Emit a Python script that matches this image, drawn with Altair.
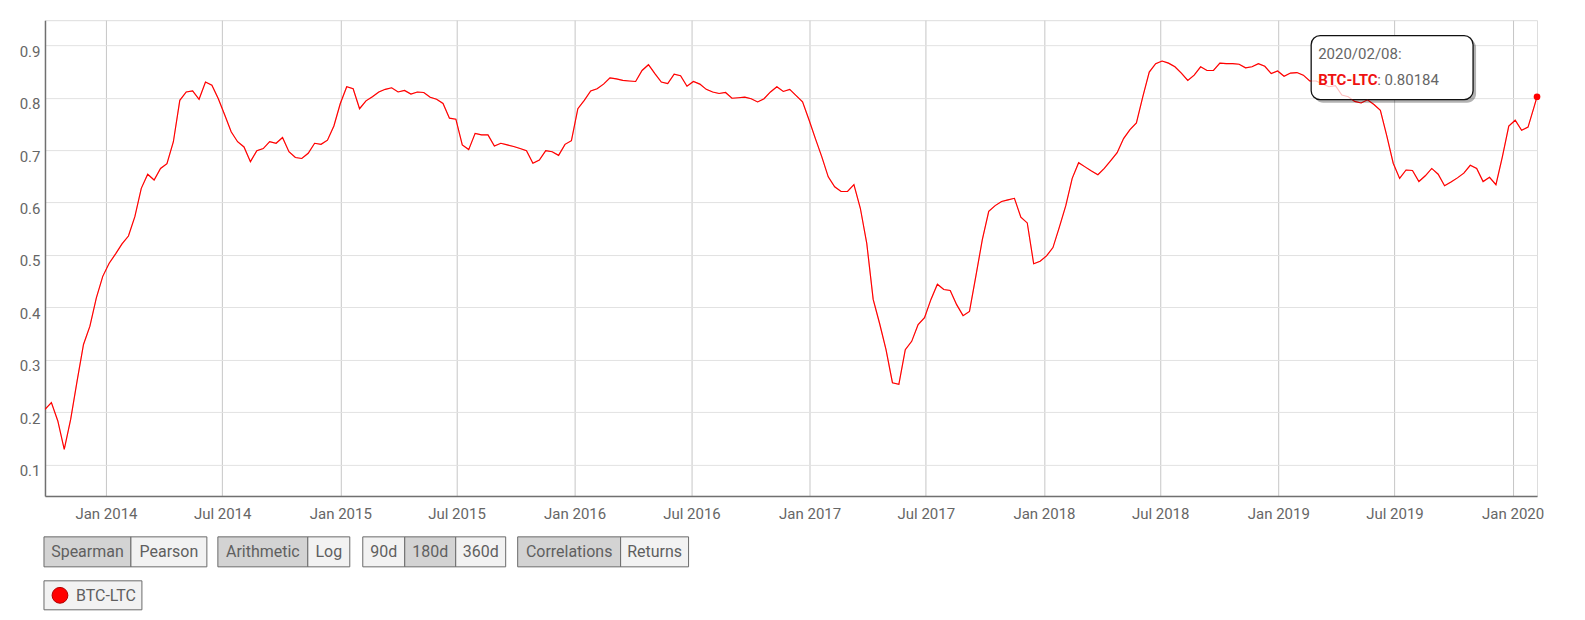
import altair as alt
import pandas as pd

# ---------------- data ----------------
series_name = "BTC-LTC"
start_date = "2013-09-28"      # first sample, then one sample every 10 days
corr_values = [
    0.205, 0.218, 0.183, 0.129, 0.186, 0.259, 0.329, 0.364, 0.418, 0.459,
    0.484, 0.502, 0.521, 0.536, 0.573, 0.627, 0.654, 0.643, 0.665, 0.674,
    0.716, 0.795, 0.811, 0.813, 0.797, 0.830, 0.824, 0.798, 0.767, 0.735,
    0.716, 0.706, 0.678, 0.699, 0.703, 0.716, 0.713, 0.724, 0.697, 0.686,
    0.684, 0.694, 0.713, 0.711, 0.719, 0.746, 0.789, 0.821, 0.817, 0.779,
    0.794, 0.802, 0.811, 0.816, 0.819, 0.811, 0.814, 0.807, 0.811, 0.810,
    0.801, 0.797, 0.789, 0.761, 0.759, 0.710, 0.701, 0.732, 0.729, 0.729,
    0.708, 0.713, 0.710, 0.707, 0.703, 0.699, 0.675, 0.681, 0.699, 0.697,
    0.690, 0.711, 0.718, 0.779, 0.795, 0.813, 0.817, 0.826, 0.838, 0.836,
    0.833, 0.832, 0.831, 0.852, 0.863, 0.846, 0.830, 0.827, 0.845, 0.842,
    0.822, 0.831, 0.826, 0.816, 0.811, 0.808, 0.810, 0.799, 0.800, 0.801,
    0.798, 0.792, 0.798, 0.811, 0.821, 0.812, 0.816, 0.804, 0.792, 0.758,
    0.722, 0.687, 0.649, 0.630, 0.621, 0.621, 0.634, 0.589, 0.522, 0.415,
    0.369, 0.319, 0.256, 0.253, 0.319, 0.335, 0.367, 0.380, 0.415, 0.444,
    0.434, 0.432, 0.405, 0.384, 0.392, 0.460, 0.529, 0.583, 0.594, 0.602,
    0.605, 0.608, 0.572, 0.561, 0.483, 0.488, 0.498, 0.514, 0.553, 0.594,
    0.646, 0.676, 0.668, 0.660, 0.653, 0.665, 0.680, 0.695, 0.722, 0.739,
    0.752, 0.802, 0.849, 0.865, 0.870, 0.866, 0.859, 0.847, 0.833, 0.843,
    0.859, 0.852, 0.852, 0.866, 0.865, 0.865, 0.864, 0.857, 0.859, 0.865,
    0.860, 0.846, 0.851, 0.841, 0.847, 0.848, 0.843, 0.832, 0.832, 0.826,
    0.821, 0.823, 0.805, 0.802, 0.793, 0.790, 0.796, 0.787, 0.776, 0.727,
    0.675, 0.646, 0.662, 0.661, 0.640, 0.651, 0.665, 0.654, 0.632, 0.639,
    0.647, 0.656, 0.671, 0.665, 0.640, 0.648, 0.634, 0.687, 0.746, 0.757,
    0.738, 0.744, 0.785,
]
last_date = "2020-02-08"
last_value = 0.80184
last_label = "2020/02/08:"

y_ticks = [0.1, 0.2, 0.3, 0.4, 0.5, 0.6, 0.7, 0.8, 0.9]
x_tick_dates = ["2014-01-01", "2014-07-01", "2015-01-01", "2015-07-01",
                "2016-01-01", "2016-07-01", "2017-01-01", "2017-07-01",
                "2018-01-01", "2018-07-01", "2019-01-01", "2019-07-01",
                "2020-01-01"]

button_groups = [
    [("Spearman", True), ("Pearson", False)],
    [("Arithmetic", True), ("Log", False)],
    [("90d", False), ("180d", True), ("360d", False)],
    [("Correlations", True), ("Returns", False)],
]

# ---------------- build table ----------------
dates = list(pd.date_range(start_date, periods=len(corr_values), freq="10D").strftime("%Y-%m-%d"))
df = pd.DataFrame({"date": dates + [last_date], "corr": corr_values + [last_value],
                   "series": series_name})
last_df = pd.DataFrame({"date": [last_date], "corr": [last_value]})


def ms(d):
    return int(pd.Timestamp(d, tz="UTC").timestamp() * 1000)


x_domain = [ms(start_date), ms(last_date)]
x_ticks = [ms(d) for d in x_tick_dates]

# ---------------- layout (pixels, relative to the plot origin) ----------------
W, H = 1493, 476
OX, OY = 45, 20          # plot origin on the page
FONT = "Roboto"
GRAY = "#666666"

x_enc = alt.X("date:T",
              scale=alt.Scale(type="utc", domain=x_domain),
              axis=alt.Axis(values=x_ticks, format="%b %Y", title=None,
                            grid=True, gridColor="#c6c6c6", gridWidth=1,
                            ticks=False, tickSize=0, labelPadding=11,
                            labelFontSize=15, labelColor=GRAY, labelFont=FONT,
                            domainColor="#707070", domainWidth=1.5))
y_enc = alt.Y("corr:Q",
              scale=alt.Scale(domain=[0.04, 0.948], nice=False, zero=False),
              axis=alt.Axis(values=y_ticks, format=".1f", title=None,
                            grid=True, gridColor="#e2e2e2", gridWidth=1,
                            ticks=False, tickSize=0, labelPadding=5,
                            labelOffset=6,
                            labelFontSize=15, labelColor=GRAY, labelFont=FONT,
                            domainColor="#707070", domainWidth=1.5))

line = alt.Chart(df).mark_line(color="#ff0000", strokeWidth=1.15, clip=True).encode(
    x=x_enc, y=y_enc)
line_faint = alt.Chart(df).mark_line(color="#ff0000", strokeWidth=1.15, opacity=0.25,
                                     clip=True).encode(x="date:T", y="corr:Q")
dot = alt.Chart(last_df).mark_circle(color="#ff0000", size=45, opacity=1).encode(
    x="date:T", y="corr:Q")

one = pd.DataFrame({"k": [0]})


def rect(x0, x1, y0, y1, fill, stroke=None, sw=1, cr=0, opacity=1.0):
    kw = dict(fill=fill, cornerRadius=cr, opacity=opacity)
    if stroke:
        kw.update(stroke=stroke, strokeWidth=sw)
    else:
        kw.update(strokeWidth=0)
    return alt.Chart(one).mark_rect(**kw).encode(
        x=alt.value(x0 - OX), x2=alt.value(x1 - OX),
        y=alt.value(y0 - OY), y2=alt.value(y1 - OY))


def text(s, x, y, size=16, color=GRAY, weight="normal", align="center"):
    return alt.Chart(one).mark_text(text=s, font=FONT, fontSize=size, color=color,
                                    fontWeight=weight, align=align,
                                    baseline="middle").encode(
        x=alt.value(x - OX), y=alt.value(y - OY))


layers = [line]

# tooltip box: shadow, opaque white card, then the line shows faintly through it
layers.append(rect(1315, 1477, 38.5, 102.5, "#000000", cr=9, opacity=0.3))
layers.append(rect(1312, 1474, 35.5, 99.5, "#ffffff", stroke="#111111", sw=1.3, cr=9))
layers.append(line_faint)
layers.append(dot)
layers.append(text(last_label, 1319, 54, size=15, color=GRAY, align="left"))
layers.append(text(series_name, 1319, 80, size=15, color="#ee1111", weight="bold", align="left"))
layers.append(text(": " + f"{last_value:.5f}", 1378, 80, size=15, color=GRAY, align="left"))

# button groups
seg_edges = [
    [44, 131, 207],
    [218, 308, 350],
    [363, 405, 456, 506],
    [518, 621, 689],
]
ry0, ry1 = 537, 567
for grp, edges in zip(button_groups, seg_edges):
    for (lab, sel), a, b in zip(grp, edges[:-1], edges[1:]):
        layers.append(rect(a, b, ry0, ry1, "#d3d3d3" if sel else "#f2f2f2",
                           stroke="#6a6a6a", sw=1))
        layers.append(text(lab, (a + b) / 2, (ry0 + ry1) / 2 + 0.5, size=16, color="#5f5f5f"))

# legend button
layers.append(rect(44, 142, 581, 610, "#f2f2f2", stroke="#6a6a6a", sw=1))
layers.append(alt.Chart(one).mark_circle(size=250, fill="#ff0000", stroke="#b00000",
                                         strokeWidth=1, opacity=1).encode(
    x=alt.value(60 - OX), y=alt.value(595.5 - OY)))
layers.append(text(series_name, 76, 596, size=16, color="#5f5f5f", align="left"))

chart = alt.layer(*layers).properties(
    width=W, height=H,
    autosize=alt.AutoSizeParams(type="none"),
    padding={"left": 37, "top": 12, "right": 40, "bottom": 115},
).configure_view(stroke=None).configure(background="white")

chart.save("out.html", embed_options={"renderer": "svg", "actions": False})
